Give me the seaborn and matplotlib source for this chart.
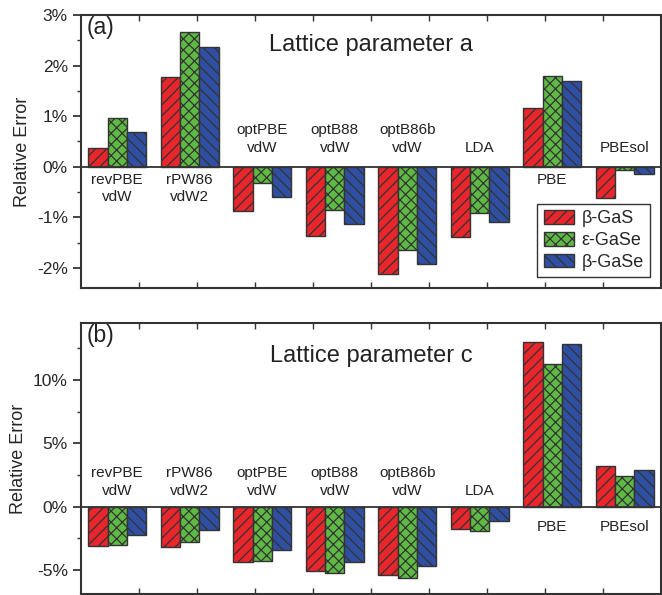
import numpy as np
import pandas as pd
import matplotlib
matplotlib.use('Agg')
import matplotlib.pyplot as plt
import seaborn as sns
from matplotlib.ticker import MultipleLocator, FuncFormatter

# Datos (error relativo en %)
functionals = ['revPBE\nvdW', 'rPW86\nvdW2', 'optPBE\nvdW', 'optB88\nvdW',
               'optB86b\nvdW', 'LDA', 'PBE', 'PBEsol']
materials = ['β-GaS', 'ε-GaSe', 'β-GaSe']

err_a_bgas = [0.37, 1.77, -0.87, -1.37, -2.12, -1.39, 1.16, -0.62]
err_a_egase = [0.97, 2.67, -0.33, -0.85, -1.65, -0.92, 1.79, -0.07]
err_a_bgase = [0.68, 2.37, -0.60, -1.13, -1.93, -1.09, 1.69, -0.15]

err_c_bgas = [-3.12, -3.20, -4.36, -5.09, -5.43, -1.76, 12.97, 3.18]
err_c_egase = [-3.04, -2.83, -4.28, -5.22, -5.62, -1.92, 11.23, 2.39]
err_c_bgase = [-2.23, -1.84, -3.44, -4.36, -4.70, -1.15, 12.81, 2.86]

colores = ['#E8262B', '#5FBA45', '#2F4FA2']
tramas = ['///', 'xxx', '\\\\\\']
gris = '#333333'

sns.set_style('ticks')
plt.rcParams['font.family'] = ['Liberation Sans', 'DejaVu Sans']
plt.rcParams['hatch.linewidth'] = 0.9


def tabla(a, b, c):
    filas = []
    for serie, mat in zip([a, b, c], materials):
        for f, v in zip(functionals, serie):
            filas.append({'Funcional': f, 'Material': mat, 'Error': v})
    return pd.DataFrame(filas)


df_a = tabla(err_a_bgas, err_a_egase, err_a_bgase)
df_c = tabla(err_c_bgas, err_c_egase, err_c_bgase)

fig = plt.figure(figsize=(6.62, 5.95), dpi=100)
ax_a = fig.add_axes([81 / 662, 1 - 288 / 595, 580 / 662, 273 / 595])
ax_c = fig.add_axes([81 / 662, 1 - 594 / 595, 580 / 662, 271 / 595])


def dibujar(ax, df, ylim, paso, titulo, letra, off_up, off_dn, leyenda):
    sns.barplot(data=df, x='Funcional', y='Error', hue='Material',
                palette=colores, saturation=1, width=0.8, edgecolor=gris,
                linewidth=1, ax=ax, legend=False, errorbar=None)
    for cont, h in zip(ax.containers, tramas):
        for p in cont:
            p.set_hatch(h)
    ax.axhline(0, color=gris, lw=1.3, zorder=5)
    ax.set_xlim(-0.5, len(functionals) - 0.5)
    ax.set_ylim(*ylim)
    ax.set_xticks(np.linspace(-0.5, len(functionals) - 0.5, 11)[1:-1])
    ax.set_xticklabels([])
    ax.tick_params(axis='x', direction='in', top=True, bottom=True,
                   length=4, width=1, color=gris)
    ax.yaxis.set_major_locator(MultipleLocator(paso))
    ax.yaxis.set_minor_locator(MultipleLocator(paso / 2))
    ax.yaxis.set_major_formatter(FuncFormatter(lambda v, p: f'{int(round(v))}%'))
    ax.tick_params(axis='y', which='major', direction='out', length=6,
                   width=1.3, labelsize=12.5, color=gris)
    ax.tick_params(axis='y', which='minor', direction='out', length=3,
                   width=1, color=gris)
    ax.set_xlabel('')
    ax.set_ylabel('Relative Error', fontsize=13, labelpad=4)
    for s in ax.spines.values():
        s.set_linewidth(1.5)
        s.set_color(gris)
    # etiquetas de los funcionales junto al cero
    for i, f in enumerate(functionals):
        total = df[df['Funcional'] == f]['Error'].sum()
        if total < 0:
            ax.annotate(f, xy=(i, 0), xytext=(0, off_up), textcoords='offset pixels',
                        ha='center', va='bottom', fontsize=11, color='#222222',
                        linespacing=1.3)
        else:
            ax.annotate(f, xy=(i, 0), xytext=(0, -off_dn), textcoords='offset pixels',
                        ha='center', va='top', fontsize=11, color='#222222',
                        linespacing=1.3)
    ax.text(0.5, titulo[1], titulo[0], transform=ax.transAxes, ha='center',
            va='center', fontsize=17, color='#222222')
    ax.text(0.01, 0.995, letra, transform=ax.transAxes, ha='left', va='top',
            fontsize=16.5, color='#222222')
    if leyenda:
        leg = ax.legend(ax.containers, materials, loc='lower right', fontsize=13,
                        fancybox=False, edgecolor=gris, framealpha=1,
                        handlelength=1.7, handleheight=0.8, handletextpad=0.4,
                        labelspacing=0.25, borderpad=0.35, borderaxespad=0.6)
        leg.get_frame().set_linewidth(1)


dibujar(ax_a, df_a, (-2.4, 3.0), 1, ('Lattice parameter a', 0.89), '(a)', 12, 6, True)
dibujar(ax_c, df_c, (-6.9, 14.5), 5, ('Lattice parameter c', 0.878), '(b)', 9, 13, False)

fig.savefig('out.png', dpi=100)
